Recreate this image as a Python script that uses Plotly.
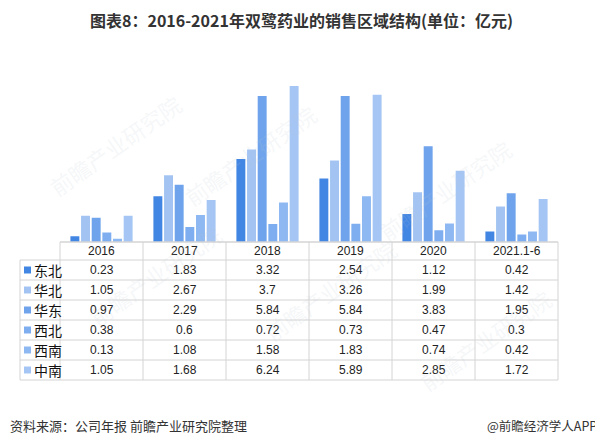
import plotly.graph_objects as go

# page body has an 8px margin; lay out in reference pixel coords and shift
OFF = 8
FW, FH = 595, 438

years = ["2016", "2017", "2018", "2019", "2020", "2021.1-6"]
regions = ["东北", "华北", "华东", "西北", "西南", "中南"]
values = {
    "东北": [0.23, 1.83, 3.32, 2.54, 1.12, 0.42],
    "华北": [1.05, 2.67, 3.7, 3.26, 1.99, 1.42],
    "华东": [0.97, 2.29, 5.84, 5.84, 3.83, 1.95],
    "西北": [0.38, 0.6, 0.72, 0.73, 0.47, 0.3],
    "西南": [0.13, 1.08, 1.58, 1.83, 0.74, 0.42],
    "中南": [1.05, 1.68, 6.24, 5.89, 2.85, 1.72],
}
colors = {
    "东北": "#4286E4",
    "华北": "#A3C4F3",
    "华东": "#6FA4EC",
    "西北": "#7EAEF0",
    "西南": "#8DB8F2",
    "中南": "#A5C6F5",
}
title = "图表8：2016-2021年双鹭药业的销售区域结构(单位：亿元)"
source = "资料来源：公司年报 前瞻产业研究院整理"
credit = "@前瞻经济学人APP"

def px(x):
    return (x - OFF) / FW

def py(y):
    return 1 - (y - OFF) / FH

# layout geometry (reference pixels)
tbl_left, col0, tbl_right = 20, 60, 558
head_top, row_top, row_h = 242, 260, 20
bar_bottom, bar_top = 242, 67

fig = go.Figure()
for r in regions:
    fig.add_trace(go.Bar(
        x=years, y=values[r], name=r,
        marker=dict(color=colors[r], line=dict(width=0)),
        hoverinfo="x+y+name",
    ))

shapes = []
lc = "#D4D4D4"
ncol = len(years)
cw = (tbl_right - col0) / ncol
nrows = len(regions)
tbl_bottom = row_top + nrows * row_h
shapes.append(dict(type="line", xref="paper", yref="paper",
                   x0=px(col0), x1=px(tbl_right), y0=py(head_top), y1=py(head_top),
                   line=dict(color=lc, width=1.5)))
for i in range(nrows + 1):
    y = row_top + i * row_h
    shapes.append(dict(type="line", xref="paper", yref="paper",
                       x0=px(tbl_left), x1=px(tbl_right), y0=py(y), y1=py(y),
                       line=dict(color=lc, width=1)))
shapes.append(dict(type="line", xref="paper", yref="paper",
                   x0=px(tbl_left), x1=px(tbl_left), y0=py(row_top), y1=py(tbl_bottom),
                   line=dict(color=lc, width=1)))
for j in range(ncol + 1):
    x = col0 + j * cw
    shapes.append(dict(type="line", xref="paper", yref="paper",
                       x0=px(x), x1=px(x), y0=py(head_top), y1=py(tbl_bottom),
                       line=dict(color=lc, width=1)))

annotations = []
num_font = dict(family="Liberation Sans, Arial, sans-serif", size=12, color="#222222")
for j, yr in enumerate(years):
    annotations.append(dict(xref="paper", yref="paper", x=px(col0 + (j + 0.5) * cw),
                            y=py(head_top + 9), text=yr, showarrow=False,
                            xanchor="center", yanchor="middle", font=num_font))
for i, r in enumerate(regions):
    yc = row_top + (i + 0.5) * row_h
    shapes.append(dict(type="rect", xref="paper", yref="paper",
                       x0=px(24), x1=px(31), y0=py(yc + 3.5), y1=py(yc - 3.5),
                       fillcolor=colors[r], line=dict(width=0)))
    annotations.append(dict(xref="paper", yref="paper", x=px(32), y=py(yc),
                            text=r, showarrow=False, xanchor="left", yanchor="middle",
                            font=dict(family="Noto Sans CJK SC", size=14, color="#111111")))
    for j, v in enumerate(values[r]):
        annotations.append(dict(xref="paper", yref="paper", x=px(col0 + (j + 0.5) * cw),
                                y=py(yc), text=f"{v:g}", showarrow=False,
                                xanchor="center", yanchor="middle", font=num_font))

annotations.append(dict(xref="paper", yref="paper", x=px(301), y=py(20), text=f"<b>{title}</b>",
                        showarrow=False, xanchor="center", yanchor="middle",
                        font=dict(family="Noto Sans CJK SC", size=16, color="#333333")))
annotations.append(dict(xref="paper", yref="paper", x=px(8), y=py(425), text=source,
                        showarrow=False, xanchor="left", yanchor="middle",
                        font=dict(family="Noto Sans CJK SC", size=13, color="#333333")))
annotations.append(dict(xref="paper", yref="paper", x=px(599), y=py(425), text=credit,
                        showarrow=False, xanchor="right", yanchor="middle",
                        font=dict(family="Noto Sans CJK SC", size=12.5, color="#333333")))

for (wx, wy) in [(40, 85), (250, 95), (520, 130), (80, 275), (330, 290), (560, 400)]:
    annotations.append(dict(xref="paper", yref="paper", x=px(wx), y=py(wy), text="前瞻产业研究院",
                            showarrow=False, textangle=-35,
                            font=dict(family="Noto Sans CJK SC", size=22, color="rgba(190,196,206,0.15)")))

fig.update_layout(
    width=FW, height=FH,
    margin=dict(l=0, r=0, t=0, b=0),
    paper_bgcolor="white", plot_bgcolor="white",
    showlegend=False,
    barmode="group", bargap=0.23, bargroupgap=0.16,
    xaxis=dict(domain=[px(col0), px(tbl_right)], showticklabels=False, showgrid=False,
               zeroline=False, showline=False, ticks=""),
    yaxis=dict(domain=[py(bar_bottom), py(bar_top)], range=[0, 7], showticklabels=False,
               showgrid=False, zeroline=False, showline=False, ticks=""),
    shapes=shapes, annotations=annotations,
)

fig.write_html("out.html")
